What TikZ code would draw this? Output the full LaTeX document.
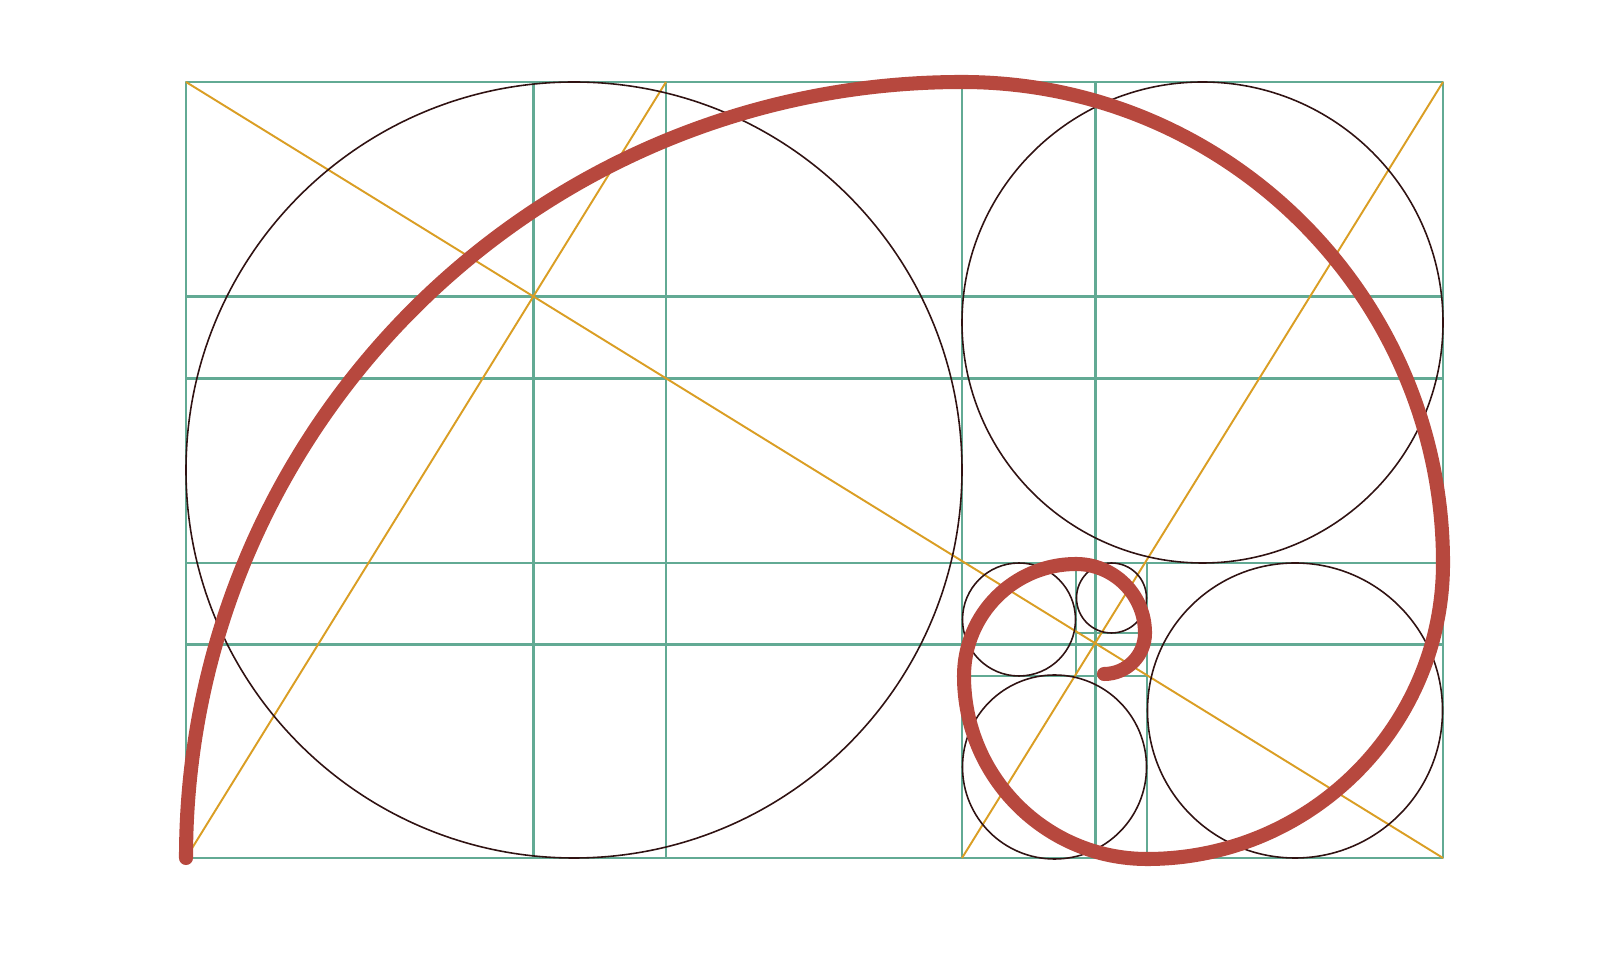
\documentclass[tikz,border=0pt]{standalone}
\usepackage{tikz}
\usetikzlibrary{calc}
\definecolor{gridgreen}{RGB}{98,170,148}
\definecolor{diagorange}{RGB}{218,158,36}
\definecolor{circlebrown}{RGB}{48,18,18}
\definecolor{spiralred}{RGB}{183,72,62}

\begin{document}
\begin{tikzpicture}[x=0.02cm,y=0.02cm,line join=round]
  \tikzstyle{guide}=[draw=gridgreen,line width=1.3pt]
  \tikzstyle{diag}=[draw=diagorange,line width=1.1pt]
  \tikzstyle{disc}=[draw=circlebrown,line width=0.9pt]
  \tikzstyle{spiral}=[draw=spiralred,line width=8pt,line cap=round]

  \useasboundingbox (0,0) rectangle (1619,980);

  \coordinate (TL) at (186,898);
  \coordinate (TR) at (1443,898);
  \coordinate (BL) at (186,122);
  \coordinate (BR) at (1443,122);

  % grid
  \foreach \x in {533.4,666,962,1095.6}
    \draw[guide] (\x,122) -- (\x,898);
  \foreach \y in {683.5,601.6,417,335.5}
    \draw[guide] (186,\y) -- (1443,\y);
  \draw[guide] (1147,122) -- (1147,417);
  \draw[guide] (1076,304) -- (1076,417);
  \draw[guide] (962,304) -- (1147,304);
  \draw[guide] (1076,347) -- (1147,347);
  \draw[guide] (BL) rectangle (TR);

  % diagonals
  \draw[diag] (TL) -- (BR);
  \draw[diag] (BL) -- (666,898);
  \draw[diag] (962,122) -- (TR);

  % inscribed circles
  \draw[disc] (574,510) circle[radius=388];
  \draw[disc] (1202.5,657.5) circle[radius=240.5];
  \draw[disc] (1295,269.5) circle[radius=147.5];
  \draw[disc] (1054.5,213) circle[radius=92];
  \draw[disc] (1019,360.5) circle[radius=56.5];
  \draw[disc] (1111.5,382) circle[radius=35];

  % spiral
  \draw[spiral] (BL) arc[start angle=180,end angle=90,radius=776]
    arc[start angle=90,end angle=0,radius=481]
    arc[start angle=0,end angle=-90,radius=296]
    arc[start angle=-90,end angle=-180,radius=183]
    arc[start angle=180,end angle=90,radius=112]
    arc[start angle=90,end angle=0,radius=69]
    arc[start angle=0,end angle=-90,radius=41];
\end{tikzpicture}
\end{document}
